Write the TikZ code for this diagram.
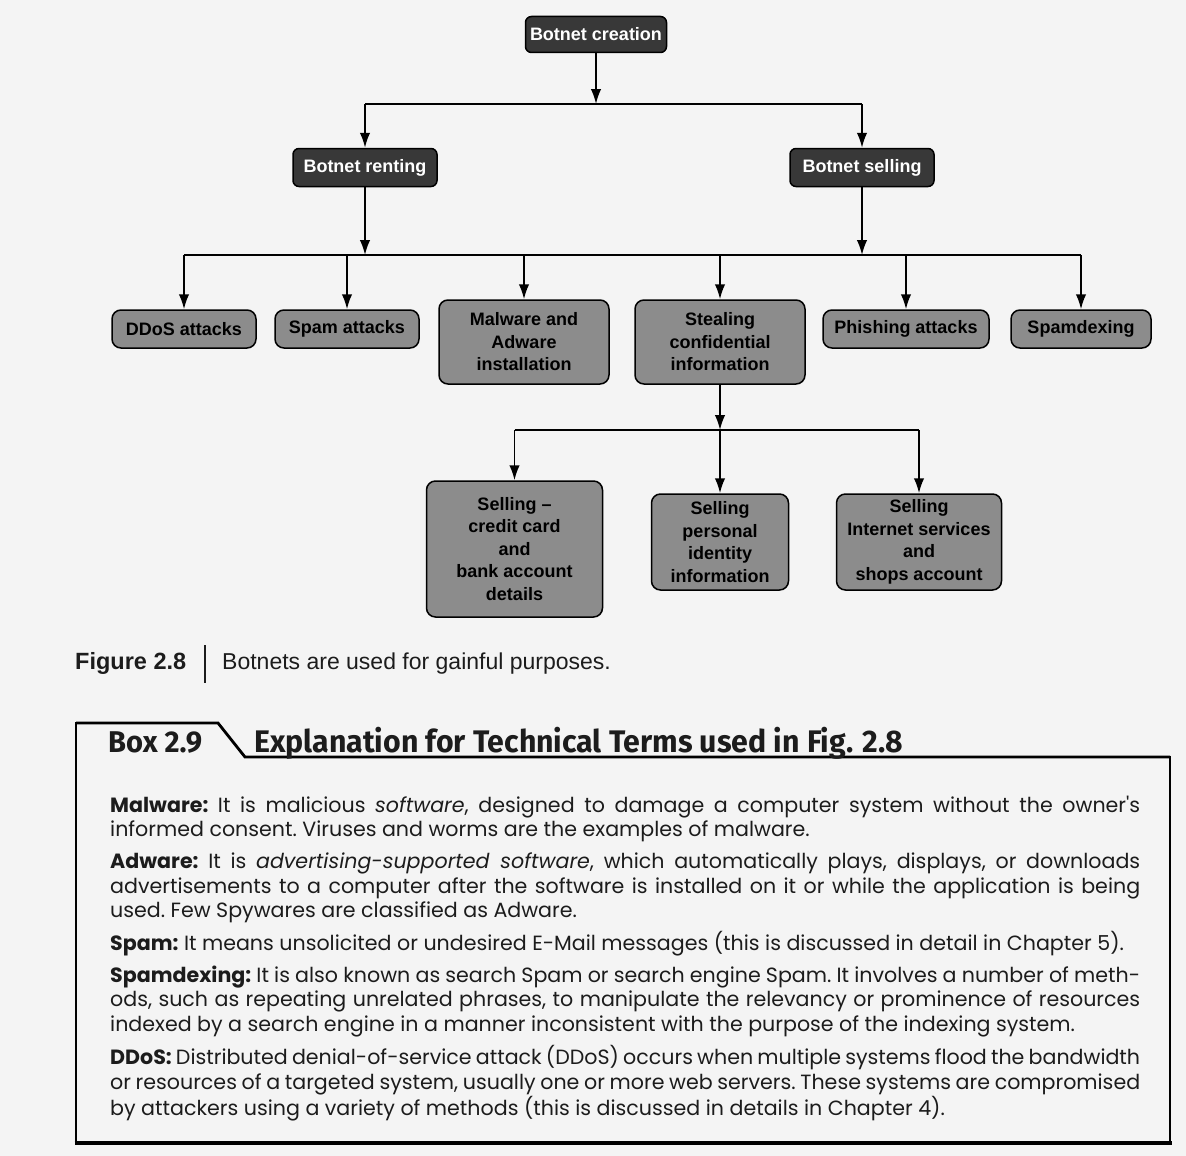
\documentclass[tikz,border=0pt]{standalone}
\usepackage{fontspec}
\setmainfont{Liberation Sans}
\newfontfamily\bodyfont{Poppins}
\newfontfamily\headfont[FakeStretch=0.97]{Fira Sans}
\usetikzlibrary{arrows.meta}
\definecolor{bgc}{HTML}{F4F4F4}
\definecolor{darkbox}{HTML}{383838}
\definecolor{greybox}{HTML}{8C8C8C}
\definecolor{bodytext}{HTML}{1C1C1C}
\newcommand{\jline}[1]{\makebox[\linewidth][s]{#1}}
\newcommand{\lline}[1]{\makebox[\linewidth][l]{#1}}
\begin{document}
\begin{tikzpicture}[x=1pt,y=-1pt,
  darkbox/.style={draw=black, line width=1.5pt, fill=darkbox, rounded corners=6pt,
    text=white, font=\fontsize{18}{21}\selectfont\bfseries, inner sep=0pt, align=center},
  greybox/.style={draw=black, line width=1.5pt, fill=greybox, rounded corners=9pt,
    text=black, font=\fontsize{18}{22.5}\selectfont\bfseries, inner sep=0pt, align=center},
  arr/.style={-{Latex[length=15pt,width=10.5pt]}, line width=1.8pt},
  bus/.style={line width=1.8pt}]
\fill[bgc] (0,0) rectangle (1186,1156);
\useasboundingbox (0,0) rectangle (1186,1156);

% top levels
\node[darkbox, minimum width=141pt, minimum height=36pt] (create) at (596,34.5) {Botnet creation};
\node[darkbox, minimum width=144pt, minimum height=38pt] (rent) at (365,167.5) {Botnet renting};
\node[darkbox, minimum width=144pt, minimum height=38pt] (sellb) at (862,167.5) {Botnet selling};
\coordinate (b1) at (0,104);
\coordinate (b2) at (0,255);
\coordinate (b3) at (0,430);

\draw[arr] (create.south) -- (create.south |- b1);
\draw[bus] (rent |- b1) -- (sellb |- b1);
\draw[arr] (rent |- b1) -- (rent.north);
\draw[arr] (sellb |- b1) -- (sellb.north);

% second row
\node[greybox, minimum width=144pt, minimum height=38pt] (ddos) at (184,329) {DDoS attacks};
\node[greybox, minimum width=144pt, minimum height=38pt] (spam) at (347,329) {Spam attacks};
\node[greybox, minimum width=170pt, minimum height=84pt] (mal) at (524,342) {Malware and\\Adware\\installation};
\node[greybox, minimum width=170pt, minimum height=84pt] (steal) at (720,342) {Stealing\\confidential\\information};
\node[greybox, minimum width=166pt, minimum height=38pt] (phish) at (906,329) {Phishing attacks};
\node[greybox, minimum width=140pt, minimum height=38pt] (spdx) at (1081,329) {Spamdexing};

\draw[arr] (rent.south) -- (rent |- b2);
\draw[arr] (sellb.south) -- (sellb |- b2);
\draw[bus] (ddos |- b2) -- (spdx |- b2);
\foreach \n in {ddos,spam,mal,steal,phish,spdx} \draw[arr] (\n |- b2) -- (\n.north);

% third row
\node[greybox, minimum width=176pt, minimum height=136pt] (s1) at (514.5,549) {Selling --\\credit card\\and\\bank account\\details};
\node[greybox, minimum width=137pt, minimum height=96pt] (s2) at (720,542) {Selling\\personal\\identity\\information};
\node[greybox, minimum width=165pt, minimum height=96pt] (s3) at (919,542) {Selling\\Internet services\\and\\shops account};

\draw[arr] (steal.south) -- (steal |- b3);
\draw[bus] (s1 |- b3) -- (s3 |- b3);
\foreach \n in {s1,s2,s3} \draw[arr] (\n |- b3) -- (\n.north);

% caption
\node[anchor=base west, inner sep=0pt, font=\fontsize{23.5}{27}\selectfont\bfseries, text=bodytext] (figlab) at (75,669) {Figure 2.8};
\draw[line width=2pt, bodytext] (205,645) -- (205,683);
\node[anchor=base west, inner sep=0pt, font=\fontsize{23}{27}\selectfont, text=bodytext] (figcap) at (222,669) {Botnets are used for gainful purposes.};

% box frame
\draw[line width=1.6pt] (76,723) -- (218,723) -- (245,757) -- (1170,757) -- (1170,1143) -- (76,1143) -- cycle;
\draw[line width=2.8pt] (76,723) -- (218,723) -- (245,757) -- (1170,757);
\draw[line width=3.2pt] (74.5,1143) -- (1171.5,1143);

\node[anchor=base west, inner sep=0pt, font=\headfont\fontsize{30}{34}\selectfont\bfseries, text=bodytext] (boxno) at (108,752) {Box 2.9};
\node[anchor=base west, inner sep=0pt, font=\headfont\fontsize{31.2}{34}\selectfont\bfseries, text=bodytext] (boxtitle) at (254,752) {Explanation for Technical Terms used in Fig. 2.8};

\node[anchor=base west, inner sep=0pt, text=bodytext] (body) at (110,812) {%
\begin{minipage}[t]{1030pt}
\bodyfont\fontsize{20.6}{24.6}\selectfont\frenchspacing
\setlength{\parindent}{0pt}\setlength{\parskip}{7.5pt}%
\jline{\textbf{Malware:} It is malicious \textit{software}, designed to damage a computer system without the owner's}\\
\lline{informed consent. Viruses and worms are the examples of malware.}\par
\jline{\textbf{Adware:} It is \textit{advertising-supported software}, which automatically plays, displays, or downloads}\\
\jline{advertisements to a computer after the software is installed on it or while the application is being}\\
\lline{used. Few Spywares are classified as Adware.}\par
\lline{\textbf{Spam:} It means unsolicited or undesired E-Mail messages (this is discussed in detail in Chapter 5).}\par
\jline{\textbf{Spamdexing:} It is also known as search Spam or search engine Spam. It involves a number of meth-}\\
\jline{ods, such as repeating unrelated phrases, to manipulate the relevancy or prominence of resources}\\
\lline{indexed by a search engine in a manner inconsistent with the purpose of the indexing system.}\par
\jline{\textbf{DDoS:} Distributed denial-of-service attack (DDoS) occurs when multiple systems flood the bandwidth}\\
\jline{or resources of a targeted system, usually one or more web servers. These systems are compromised}\\
\lline{by attackers using a variety of methods (this is discussed in details in Chapter 4).}
\end{minipage}};
\end{tikzpicture}
\end{document}
